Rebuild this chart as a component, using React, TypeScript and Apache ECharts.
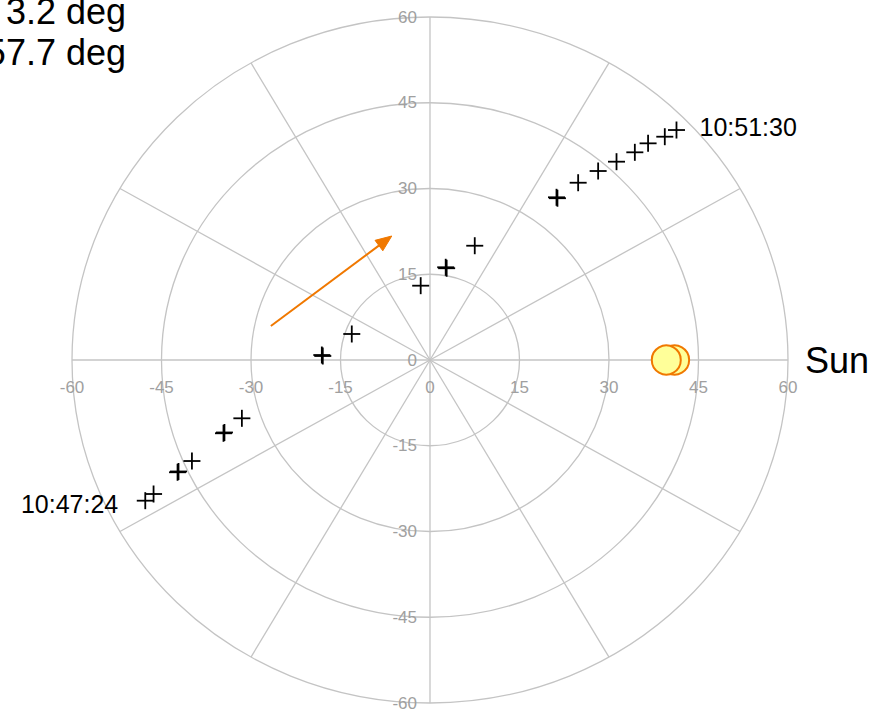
import { useEffect, useRef } from "react";
import * as echarts from "echarts";

// Axis range and tick spacing (both axes share them)
const axisMin = -60;
const axisMax = 60;
const axisStep = 15;
const tickValues = [-60, -45, -30, -15, 0, 15, 30, 45, 60];

// Polar grid drawn on the cartesian plane
const ringRadii = [15, 30, 45, 60];
const spokeAngles = [0, 30, 60, 90, 120, 150, 180, 210, 240, 270, 300, 330];

// Track positions (x, y in degrees), in time order
const trackX = [
  -47.72, -46.33, -42.31, -42.15, -39.9, -34.61, -34.45, -31.53, -18.13, -17.97, -13.11,
  -1.56, 2.63, 2.79, 7.5, 21.2, 21.36, 24.83, 28.18, 31.26, 34.33, 36.55, 39.35, 41.31,
];
const trackY = [
  -24.61, -23.44, -19.64, -19.5, -17.67, -12.82, -12.68, -10.2, 0.87, 0.7, 4.55,
  13.0, 16.22, 16.05, 19.99, 28.46, 28.3, 31.01, 33.06, 34.69, 36.33, 37.9, 39.06, 40.23,
];
const startTime = "10:47:24";
const endTime = "10:51:30";

// Sun disc positions
const sunX = [41.0, 39.6];
const sunY = [0, 0];
const sunLabel = "Sun";

// Direction-of-motion arrow: [x0, y0, x1, y1]
const arrowSegment = [-26.67, 5.95, -6.41, 21.69];

// Readout lines in the top-left corner
const readouts = ["3.2 deg", "57.7 deg"];

const FONT = "'Liberation Sans', Arial, Helvetica, sans-serif";
const GRID_COLOR = "#c4c4c4";
const TICK_COLOR = "#a0a0a0";
const ORANGE = "#f07800";

export default function App() {
  const ref = useRef<HTMLDivElement>(null);

  useEffect(() => {
    if (!ref.current) return;
    const chart = echarts.init(ref.current, null, { renderer: "svg" });

    const ringSeries = {
      type: "custom",
      silent: true,
      clip: false,
      z: 1,
      data: ringRadii.map((r) => [r]),
      renderItem: (_params: any, api: any) => {
        const r = api.value(0);
        const c = api.coord([0, 0]);
        const e = api.coord([r, r]);
        return {
          type: "ellipse",
          shape: { cx: c[0], cy: c[1], rx: e[0] - c[0], ry: c[1] - e[1] },
          style: { fill: "none", stroke: GRID_COLOR, lineWidth: 1.3 },
        };
      },
    };

    const spokeSeries = {
      type: "custom",
      silent: true,
      clip: false,
      z: 1,
      data: spokeAngles.map((a) => [a]),
      renderItem: (_params: any, api: any) => {
        const a = (api.value(0) * Math.PI) / 180;
        const c = api.coord([0, 0]);
        const e = api.coord([axisMax * Math.cos(a), axisMax * Math.sin(a)]);
        return {
          type: "line",
          shape: { x1: c[0], y1: c[1], x2: e[0], y2: e[1] },
          style: { stroke: GRID_COLOR, lineWidth: 1.3 },
        };
      },
    };

    // Tick labels sit on the centre lines: x values below the horizontal
    // line, y values to the left of the vertical line.
    const tickLabelSeries = {
      type: "custom",
      silent: true,
      clip: false,
      z: 2,
      data: tickValues.map((v) => [v]),
      renderItem: (_params: any, api: any) => {
        const v = api.value(0);
        const px = api.coord([v, 0]);
        const py = api.coord([0, v]);
        const base = { fill: TICK_COLOR, fontSize: 17, fontFamily: FONT };
        return {
          type: "group",
          children: [
            {
              type: "text",
              x: px[0],
              y: px[1] + 19,
              style: { ...base, text: String(v), align: "center", verticalAlign: "top" },
            },
            {
              type: "text",
              x: py[0] - 13,
              y: py[1],
              style: { ...base, text: String(v), align: "right", verticalAlign: "middle" },
            },
          ],
        };
      },
    };

    const lastIndex = trackX.length - 1;
    const trackSeries = {
      type: "custom",
      clip: false,
      z: 5,
      data: trackX.map((x, i) => [x, trackY[i]]),
      renderItem: (params: any, api: any) => {
        const p = api.coord([api.value(0), api.value(1)]);
        const h = 8.5;
        const children: any[] = [
          {
            type: "line",
            shape: { x1: p[0] - h, y1: p[1], x2: p[0] + h, y2: p[1] },
            style: { stroke: "#000", lineWidth: 1.8 },
          },
          {
            type: "line",
            shape: { x1: p[0], y1: p[1] - h, x2: p[0], y2: p[1] + h },
            style: { stroke: "#000", lineWidth: 1.8 },
          },
        ];
        if (params.dataIndex === 0) {
          children.push({
            type: "text",
            x: p[0] - 27,
            y: p[1] + 3.5,
            style: {
              text: startTime,
              fill: "#000",
              fontSize: 25,
              fontFamily: FONT,
              align: "right",
              verticalAlign: "middle",
            },
          });
        }
        if (params.dataIndex === lastIndex) {
          children.push({
            type: "text",
            x: p[0] + 23,
            y: p[1] - 3,
            style: {
              text: endTime,
              fill: "#000",
              fontSize: 25,
              fontFamily: FONT,
              align: "left",
              verticalAlign: "middle",
            },
          });
        }
        return { type: "group", children };
      },
    };

    const arrowSeries = {
      type: "custom",
      clip: false,
      z: 4,
      data: [arrowSegment],
      renderItem: (_params: any, api: any) => {
        const p0 = api.coord([api.value(0), api.value(1)]);
        const p1 = api.coord([api.value(2), api.value(3)]);
        const ang = Math.atan2(p1[1] - p0[1], p1[0] - p0[0]);
        const len = 16;
        const half = 6.5;
        const bx = p1[0] - len * Math.cos(ang);
        const by = p1[1] - len * Math.sin(ang);
        const nx = -Math.sin(ang) * half;
        const ny = Math.cos(ang) * half;
        return {
          type: "group",
          children: [
            {
              type: "line",
              shape: { x1: p0[0], y1: p0[1], x2: bx + 2 * Math.cos(ang), y2: by + 2 * Math.sin(ang) },
              style: { stroke: ORANGE, lineWidth: 2 },
            },
            {
              type: "polygon",
              shape: {
                points: [
                  [p1[0], p1[1]],
                  [bx + nx, by + ny],
                  [bx - nx, by - ny],
                ],
              },
              style: { fill: ORANGE, stroke: ORANGE, lineWidth: 1 },
            },
          ],
        };
      },
    };

    const sunSeries = {
      type: "scatter",
      z: 6,
      symbol: "circle",
      symbolSize: 29,
      data: sunX.map((x, i) => [x, sunY[i]]),
      itemStyle: { color: "#ffff99", borderColor: ORANGE, borderWidth: 2, opacity: 1 },
      emphasis: { disabled: true },
    };

    const axisCommon = {
      type: "value",
      min: axisMin,
      max: axisMax,
      interval: axisStep,
      splitLine: { show: false },
      axisTick: { show: false },
      axisLabel: { show: false },
      axisLine: { show: false },
    };

    chart.setOption({
      animation: false,
      grid: {
        left: 72,
        right: 94,
        top: 17,
        bottom: 7,
        containLabel: false,
        outerBoundsMode: "none",
      },
      xAxis: { ...axisCommon },
      yAxis: { ...axisCommon },
      graphic: [
        {
          type: "text",
          x: 126,
          y: 11.5,
          style: {
            text: readouts[0],
            fill: "#000",
            fontSize: 36,
            fontFamily: FONT,
            align: "right",
            verticalAlign: "middle",
          },
        },
        {
          type: "text",
          x: 126,
          y: 52.5,
          style: {
            text: readouts[1],
            fill: "#000",
            fontSize: 36,
            fontFamily: FONT,
            align: "right",
            verticalAlign: "middle",
          },
        },
        {
          type: "text",
          x: 805,
          y: 360.5,
          style: {
            text: sunLabel,
            fill: "#000",
            fontSize: 36,
            fontFamily: FONT,
            align: "left",
            verticalAlign: "middle",
          },
        },
      ],
      series: [ringSeries, spokeSeries, tickLabelSeries, arrowSeries, trackSeries, sunSeries],
    });

    return () => chart.dispose();
  }, []);

  return (
    <div
      ref={ref}
      style={{ position: "fixed", left: 0, top: 0, width: 882, height: 710, background: "#fff" }}
    />
  );
}
